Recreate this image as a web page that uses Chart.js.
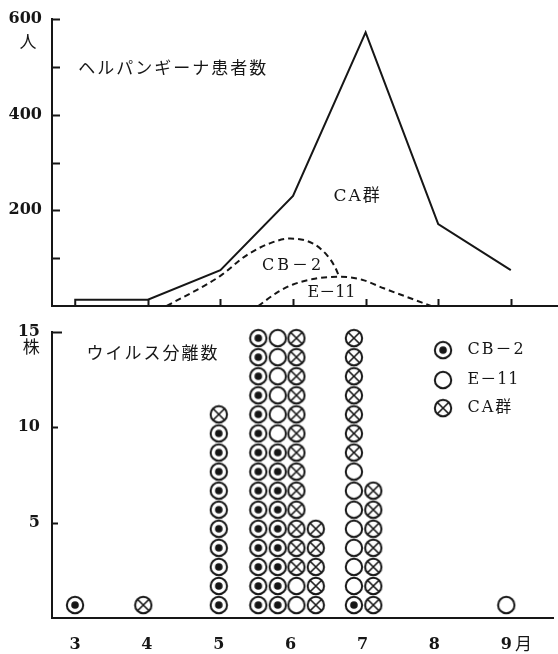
<!DOCTYPE html>
<html>
<head>
<meta charset="utf-8">
<script src="https://cdn.jsdelivr.net/npm/chart.js@4.4.1/dist/chart.umd.min.js"></script>
<style>
  html, body { margin: 0; padding: 0; background: #fff; }
  #wrap { position: relative; width: 558px; height: 654px; }
  #patients { position: absolute; left: 0; top: 0; }
  #isolates { position: absolute; left: 0; top: 312px; }
</style>
</head>
<body>
<div id="wrap">
  <canvas id="patients" width="558" height="312"></canvas>
  <canvas id="isolates" width="558" height="342"></canvas>
</div>
<script>
// months on the x axis
const months = [3, 4, 5, 6, 7, 8, 9];
const monthLabels = ['3', '4', '5', '6', '7', '8', '9'];

// ヘルパンギーナ患者数 (人)
const patientX = [3, 3, 4, 5, 6, 7, 8, 9];
const patients = [0, 13, 13, 75, 230, 572, 171, 75];
// CB-2 / E-11 share curves (dashed)
const cb2CurveX = [4.26, 4.99, 5.36, 5.68, 5.96, 6.27, 6.47, 6.58, 6.64];
const cb2Curve = [0, 62, 106, 131, 141, 131, 106, 81, 60];
const e11CurveX = [5.52, 5.8, 6.0, 6.3, 6.65, 6.95, 7.25, 7.55, 7.9];
const e11Curve = [0, 30, 45, 57, 61, 55, 37, 20, 0];

// ウイルス分離数 (株), per column, stacked CB-2 -> E-11 -> CA
const columnX = [3.0, 3.95, 5.0, 5.55, 5.82, 6.08, 6.35, 6.88, 7.15, 9.0];
const cb2Isolates = [1, 0, 10, 15, 9, 0, 0, 1, 0, 0];
const e11Isolates = [0, 0, 0, 0, 6, 2, 0, 7, 0, 1];
const caIsolates = [0, 1, 1, 0, 0, 13, 5, 7, 7, 0];

const ink = '#161616';
const xMin = 2.68, xMax = 9.65;
const serif = '"DejaVu Serif", "Noto Sans CJK JP"';
const jp = '"Noto Sans CJK JP"';
const tickFont = { family: 'DejaVu Serif', size: 16, weight: 'bold' };

function symbol(kind) {
  const c = document.createElement('canvas');
  c.width = 20; c.height = 20;
  const g = c.getContext('2d');
  g.strokeStyle = ink;
  g.lineWidth = 2;
  g.beginPath(); g.arc(10, 10, 8.2, 0, Math.PI * 2); g.stroke();
  if (kind === 'dot') {
    g.fillStyle = ink;
    g.beginPath(); g.arc(10, 10, 3.8, 0, Math.PI * 2); g.fill();
  }
  if (kind === 'cross') {
    const d = 8.2 * 0.707;
    g.lineWidth = 1.6;
    g.beginPath();
    g.moveTo(10 - d, 10 - d); g.lineTo(10 + d, 10 + d);
    g.moveTo(10 + d, 10 - d); g.lineTo(10 - d, 10 + d);
    g.stroke();
  }
  return c;
}
const dotImg = symbol('dot'), openImg = symbol('open'), crossImg = symbol('cross');

function zip(xs, ys) { return xs.map((x, i) => ({ x: x, y: ys[i] })); }

// one marker per isolate, stacked on top of the series below it
function stackPoints(counts, below) {
  const pts = [];
  counts.forEach((n, i) => {
    const start = below.reduce((s, arr) => s + arr[i], 0);
    for (let k = start + 1; k <= start + n; k++) pts.push({ x: columnX[i], y: k - 0.32 });
  });
  return pts;
}

function marks(cfg) {
  return {
    id: 'marks',
    afterDatasetsDraw(chart) {
      const { ctx, scales: { x, y } } = chart;
      ctx.save();
      ctx.strokeStyle = ink;
      ctx.lineWidth = 2;
      ctx.beginPath();
      (cfg.yTicks || []).forEach(v => {
        const py = Math.round(y.getPixelForValue(v)) + 0.5;
        ctx.moveTo(x.left, py); ctx.lineTo(x.left + (cfg.yTickLen[v] || 8), py);
      });
      (cfg.xTicks || []).forEach(v => {
        const px = Math.round(x.getPixelForValue(v)) + 0.5;
        ctx.moveTo(px, y.bottom); ctx.lineTo(px, y.bottom - cfg.xTickLen);
      });
      ctx.stroke();
      ctx.fillStyle = ink;
      ctx.textBaseline = 'middle';
      (cfg.texts || []).forEach(t => {
        ctx.font = t.font;
        ctx.textAlign = t.align || 'center';
        ctx.letterSpacing = t.spacing || '0px';
        ctx.fillText(t.text, x.getPixelForValue(t.x), y.getPixelForValue(t.y));
      });
      (cfg.legend || []).forEach(item => {
        const px = x.getPixelForValue(item.x), py = y.getPixelForValue(item.y);
        ctx.drawImage(item.img, px - 10, py - 10);
        ctx.font = '16px ' + serif;
        ctx.textAlign = 'left';
        ctx.letterSpacing = item.spacing || '0px';
        ctx.fillText(item.text, x.getPixelForValue(item.tx), py);
      });
      ctx.restore();
    }
  };
}

function noPad(scale) {
  scale.paddingTop = 0; scale.paddingBottom = 0;
  scale.paddingLeft = 0; scale.paddingRight = 0;
}

new Chart(document.getElementById('patients'), {
  type: 'line',
  data: {
    datasets: [
      { label: '患者数', data: zip(patientX, patients), borderColor: ink, borderWidth: 2, pointRadius: 0, tension: 0 },
      { label: 'CB-2', data: zip(cb2CurveX, cb2Curve), borderColor: ink, borderWidth: 2, borderDash: [6, 4],
        pointRadius: 0, cubicInterpolationMode: 'monotone' },
      { label: 'E-11', data: zip(e11CurveX, e11Curve), borderColor: ink, borderWidth: 2, borderDash: [6, 4],
        pointRadius: 0, cubicInterpolationMode: 'monotone' }
    ]
  },
  options: {
    responsive: false,
    animation: false,
    events: [],
    layout: { padding: { top: 19, bottom: 4, left: 0, right: 0 } },
    plugins: { legend: { display: false }, tooltip: { enabled: false } },
    scales: {
      x: {
        type: 'linear', min: xMin, max: xMax,
        grid: { display: false, drawTicks: false },
        border: { color: ink, width: 2 },
        ticks: { display: false },
        afterFit(s) { s.height = 2; noPad(s); }
      },
      y: {
        min: 0, max: 600,
        grid: { display: false, drawTicks: false },
        border: { color: ink, width: 2 },
        ticks: { color: ink, font: tickFont, padding: 10 },
        afterBuildTicks(s) { s.ticks = [200, 400, 600].map(v => ({ value: v })); },
        afterFit(s) { s.width = 52; noPad(s); }
      }
    }
  },
  plugins: [marks({
    yTicks: [100, 200, 300, 400, 500, 600], yTickLen: {},
    xTicks: [4, 5, 6, 7, 8, 9], xTickLen: 7,
    texts: [
      { text: 'ヘルパンギーナ患者数', x: 3.04, y: 498, align: 'left', font: '17px ' + jp, spacing: '2px' },
      { text: '人', x: 2.35, y: 552, font: '17px ' + jp },
      { text: 'CA群', x: 6.89, y: 229, font: '17px ' + serif, spacing: '2px' },
      { text: 'CB－2', x: 6.0, y: 83, font: '16px ' + serif, spacing: '3px' },
      { text: 'E－11', x: 6.53, y: 27, font: '16px ' + serif }
    ]
  })]
});

new Chart(document.getElementById('isolates'), {
  type: 'scatter',
  data: {
    datasets: [
      { label: 'CB－2', data: stackPoints(cb2Isolates, []), pointStyle: dotImg, clip: false },
      { label: 'E－11', data: stackPoints(e11Isolates, [cb2Isolates]), pointStyle: openImg, clip: false },
      { label: 'CA群', data: stackPoints(caIsolates, [cb2Isolates, e11Isolates]), pointStyle: crossImg, clip: false }
    ]
  },
  options: {
    responsive: false,
    animation: false,
    events: [],
    layout: { padding: { top: 20, bottom: 0, left: 0, right: 0 } },
    plugins: { legend: { display: false }, tooltip: { enabled: false } },
    scales: {
      x: {
        type: 'linear', min: xMin, max: xMax,
        grid: { display: false, drawTicks: false },
        border: { color: ink, width: 2 },
        ticks: {
          color: ink, font: tickFont, padding: 17, maxRotation: 0,
          callback: (v) => monthLabels[months.indexOf(v)]
        },
        afterBuildTicks(s) { s.ticks = months.map(v => ({ value: v })); },
        afterFit(s) { s.height = 36; noPad(s); }
      },
      y: {
        min: 0, max: 15,
        grid: { display: false, drawTicks: false },
        border: { color: ink, width: 2 },
        ticks: { color: ink, font: tickFont, padding: 12 },
        afterBuildTicks(s) { s.ticks = [5, 10, 15].map(v => ({ value: v })); },
        afterFit(s) { s.width = 52; noPad(s); }
      }
    }
  },
  plugins: [marks({
    yTicks: [5, 10, 15], yTickLen: { 5: 6, 10: 6, 15: 10 },
    texts: [
      { text: 'ウイルス分離数', x: 3.16, y: 13.9, align: 'left', font: '17px ' + jp, spacing: '2px' },
      { text: '株', x: 2.39, y: 14.26, font: '17px ' + jp },
      { text: '月', x: 9.24, y: -1.33, font: '17px ' + jp }
    ],
    legend: [
      { img: dotImg, x: 8.12, y: 14.05, tx: 8.46, text: 'CB－2', spacing: '2px' },
      { img: openImg, x: 8.12, y: 12.48, tx: 8.46, text: 'E－11', spacing: '1px' },
      { img: crossImg, x: 8.12, y: 11.01, tx: 8.46, text: 'CA群', spacing: '2px' }
    ]
  })]
});
</script>
</body>
</html>
